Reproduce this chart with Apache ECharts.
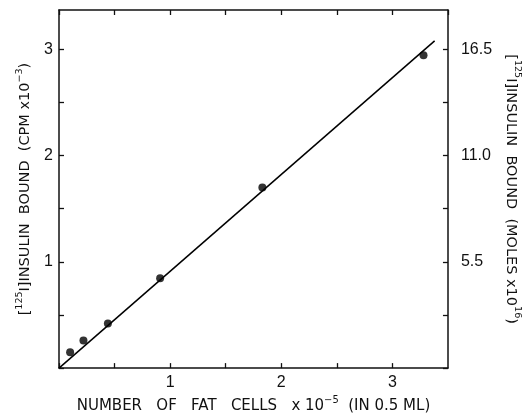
<!DOCTYPE html>
<html>
<head>
<meta charset="utf-8">
<script src="https://cdn.jsdelivr.net/npm/echarts@6/dist/echarts.min.js"></script>
<style>html,body{margin:0;padding:0;background:#fff}#c{width:530px;height:419px}</style>
</head>
<body>
<div id="c"></div>
<script>
var cellsX = [0.10, 0.22, 0.44, 0.91, 1.83, 3.28];
var boundCPM = [0.15, 0.26, 0.42, 0.845, 1.70, 2.945];
var fitLineX = [0, 3.38];
var fitLineY = [0, 3.08];
var xTickLabels = ['1', '2', '3'];
var leftTickLabels = ['1', '2', '3'];
var rightTickLabels = ['5.5', '11.0', '16.5'];
var molesPerCPM = 5.5;

var pts = cellsX.map(function (x, i) { return [x, boundCPM[i]]; });
var line = fitLineX.map(function (x, i) { return [x, fitLineY[i]]; });

var FONT = 'Liberation Sans';
var TFONT = 'DejaVu Sans';
var YMAX = 3.37;
var XMAX = 3.5;
var chart = echarts.init(document.getElementById('c'));
var axisLine = { show: true, onZero: false, lineStyle: { color: '#111', width: 1.5 } };
var tick = { show: true, inside: true, length: 5, lineStyle: { color: '#111', width: 1.3 } };
var lbl = { color: '#111', fontFamily: FONT, fontSize: 16 };
function richSet(sz) {
  return {
    n: { fontFamily: TFONT, fontSize: sz, color: '#111', lineHeight: 19, verticalAlign: 'bottom' },
    s: { fontFamily: TFONT, fontSize: sz * 0.66, color: '#111', lineHeight: 19, verticalAlign: 'top' }
  };
}
function isInt(v) { return Math.abs(v - Math.round(v)) < 1e-6; }

chart.setOption({
  animation: false,
  backgroundColor: '#fff',
  grid: { left: 59, right: 77, top: 10, bottom: 40 },
  xAxis: [{
    type: 'value', position: 'bottom', min: 0, max: XMAX, interval: 0.5,
    axisLine: axisLine, axisTick: tick, splitLine: { show: false },
    axisLabel: Object.assign({}, lbl, { margin: 6, showMaxLabel: false,
      formatter: function (v) { return (isInt(v) && xTickLabels.indexOf(String(v)) >= 0) ? String(v) : ''; } }),
    name: '{n|NUMBER   OF   FAT   CELLS   x 10}{s|−5}{n|  (IN 0.5 ML)}',
    nameLocation: 'middle', nameGap: 22,
    nameTextStyle: { rich: richSet(15) }
  }, {
    type: 'value', position: 'top', min: 0, max: XMAX, interval: 0.5,
    axisLine: axisLine, axisTick: tick, splitLine: { show: false },
    axisLabel: { show: false }
  }],
  yAxis: [{
    type: 'value', position: 'left', min: 0, max: YMAX, interval: 0.5,
    axisLine: axisLine, axisTick: tick, splitLine: { show: false },
    axisLabel: Object.assign({}, lbl, { margin: 6, showMaxLabel: false,
      formatter: function (v) { return (isInt(v) && leftTickLabels.indexOf(String(v)) >= 0) ? String(v) : ''; } }),
    name: '{n|[}{s|125}{n|I]INSULIN  BOUND  (CPM x10}{s|−3}{n|)}',
    nameLocation: 'middle', nameGap: 18, nameRotate: 90,
    nameTextStyle: { rich: richSet(14.5) }
  }, {
    type: 'value', position: 'right', min: 0, max: YMAX * molesPerCPM, interval: 0.5 * molesPerCPM,
    axisLine: axisLine, axisTick: tick, splitLine: { show: false },
    axisLabel: Object.assign({}, lbl, { margin: 13, showMaxLabel: false,
      formatter: function (v) { var s = v.toFixed(1); return rightTickLabels.indexOf(s) >= 0 ? s : ''; } }),
    name: '{n|[}{s|125}{n|I]INSULIN  BOUND  (MOLES x10}{s|16}{n|)}',
    nameLocation: 'middle', nameGap: 51, nameRotate: -90,
    nameTextStyle: { rich: richSet(14.5) }
  }],
  series: [{
    type: 'line', data: line, xAxisIndex: 0, yAxisIndex: 0,
    showSymbol: false, lineStyle: { color: '#000', width: 1.5 }, silent: true
  }, {
    type: 'scatter', data: pts, xAxisIndex: 0, yAxisIndex: 0,
    symbol: 'circle', symbolSize: 8, itemStyle: { color: '#000' }
  }]
});
</script>
</body>
</html>
